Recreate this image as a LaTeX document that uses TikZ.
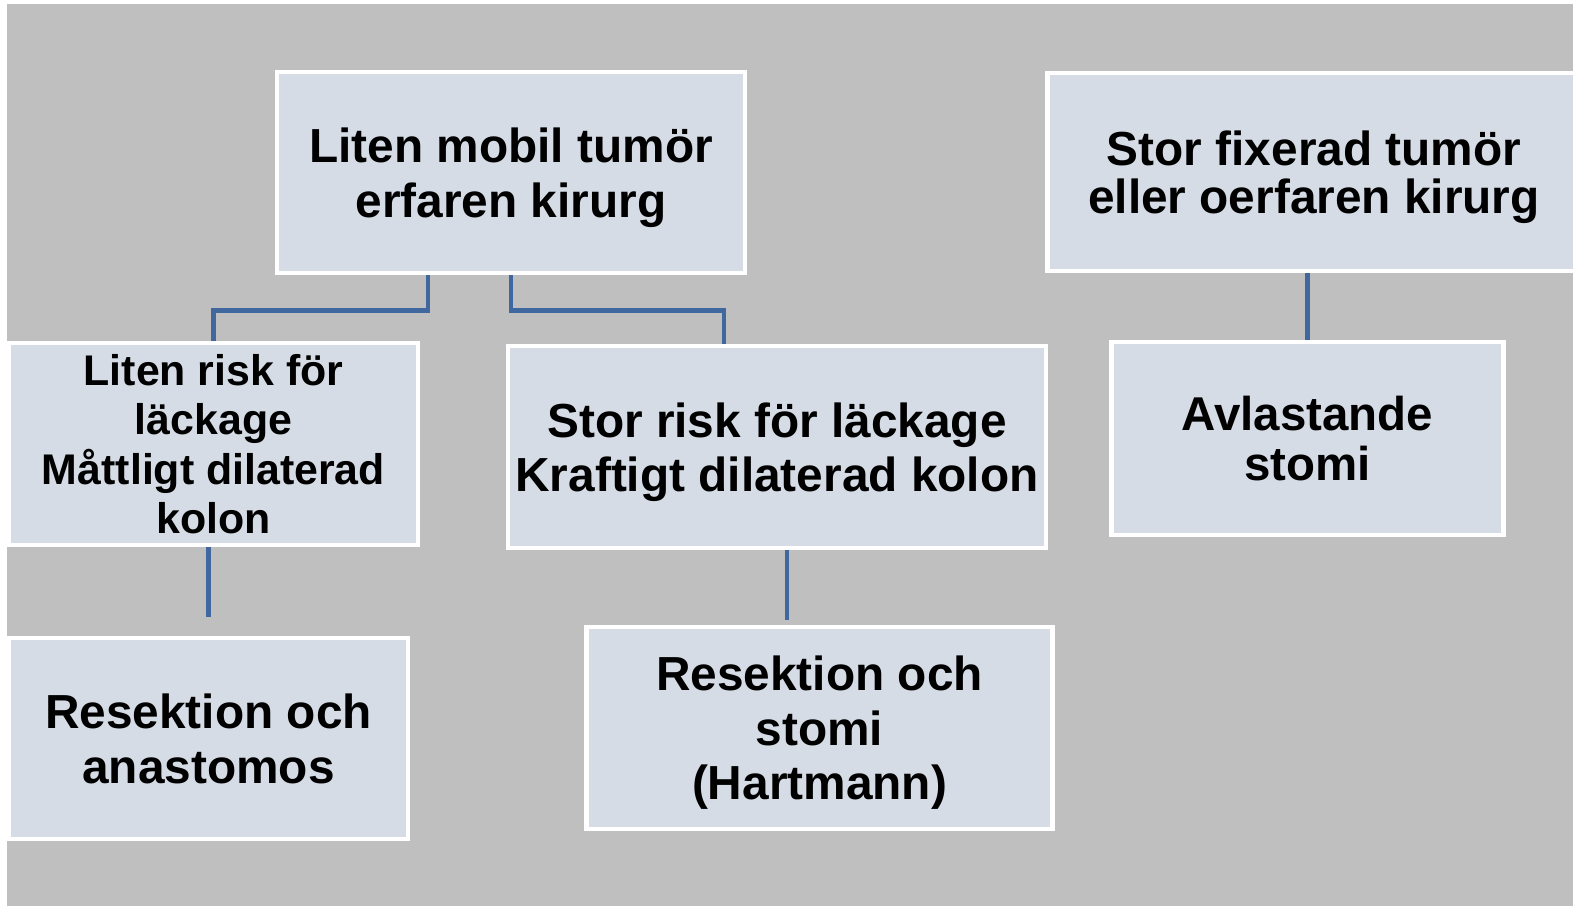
\documentclass[tikz,border=0pt]{standalone}
\usepackage{fontspec}
\setmainfont{Liberation Sans}
\usetikzlibrary{positioning}
\definecolor{bakgrund}{HTML}{BFBFBF}
\definecolor{boxfyll}{HTML}{D6DCE5}
\definecolor{linjebla}{HTML}{41689E}
\newcommand{\stor}{\fontsize{13.6}{15.5}\selectfont}
\newcommand{\tat}{\fontsize{13.6}{13.8}\selectfont}
\newcommand{\mindre}{\fontsize{12.2}{14}\selectfont}

\begin{document}
\begin{tikzpicture}[boks/.style={rectangle,draw=white,line width=1.4pt,fill=boxfyll,
    align=center,inner sep=0pt,text depth=-0.06cm,font=\bfseries\stor},
  linje/.style={draw=linjebla,line width=1.35pt}]
\useasboundingbox (0,0) rectangle (15.73,-9.06);
\fill[white] (0,0) rectangle (15.73,-9.06);
\fill[bakgrund] (0.07,-0.04) rectangle (15.73,-9.06);

\node[boks,minimum width=4.68cm,minimum height=2.01cm](q1) at (5.11,-1.725){Liten mobil tumör\\erfaren kirurg};
\node[boks,minimum width=5.33cm,minimum height=1.98cm,font=\bfseries\tat](q2) at (13.14,-1.72){Stor fixerad tumör\\eller oerfaren kirurg};
\node[boks,minimum width=4.09cm,minimum height=2.02cm,font=\bfseries\mindre](q3) at (2.135,-4.44){Liten risk för\\läckage\\Måttligt dilaterad\\kolon};
\node[boks,minimum width=5.38cm,minimum height=2.02cm,text depth=-0.13cm](q4) at (7.77,-4.47){Stor risk för läckage\\Kraftigt dilaterad kolon};
\node[boks,minimum width=3.92cm,minimum height=1.93cm,font=\bfseries\fontsize{13.5}{14.3}\selectfont](q5) at (13.075,-4.385){Avlastande\\stomi};
\node[boks,minimum width=3.99cm,minimum height=2.01cm](q6) at (2.085,-7.385){Resektion och\\anastomos};
\node[boks,minimum width=4.66cm,minimum height=2.02cm](q7) at (8.195,-7.28){Resektion och\\stomi\\(Hartmann)};

\draw[linje] ([xshift=-0.83cm]q1.south) -- ++(0,-0.35) -| (q3.north);
\draw[linje] (q1.south) -- ++(0,-0.35) -| ([xshift=-0.53cm]q4.north);
\draw[linje] (q5.north |- q2.south) -- (q5.north);
\draw[linje,shorten >=0.19cm] (q6.north |- q3.south) -- (q6.north);
\draw[linje,shorten >=0.05cm] ([xshift=0.1cm]q4.south) -- ([xshift=0.1cm]q4.south |- q7.north);
\end{tikzpicture}
\end{document}
